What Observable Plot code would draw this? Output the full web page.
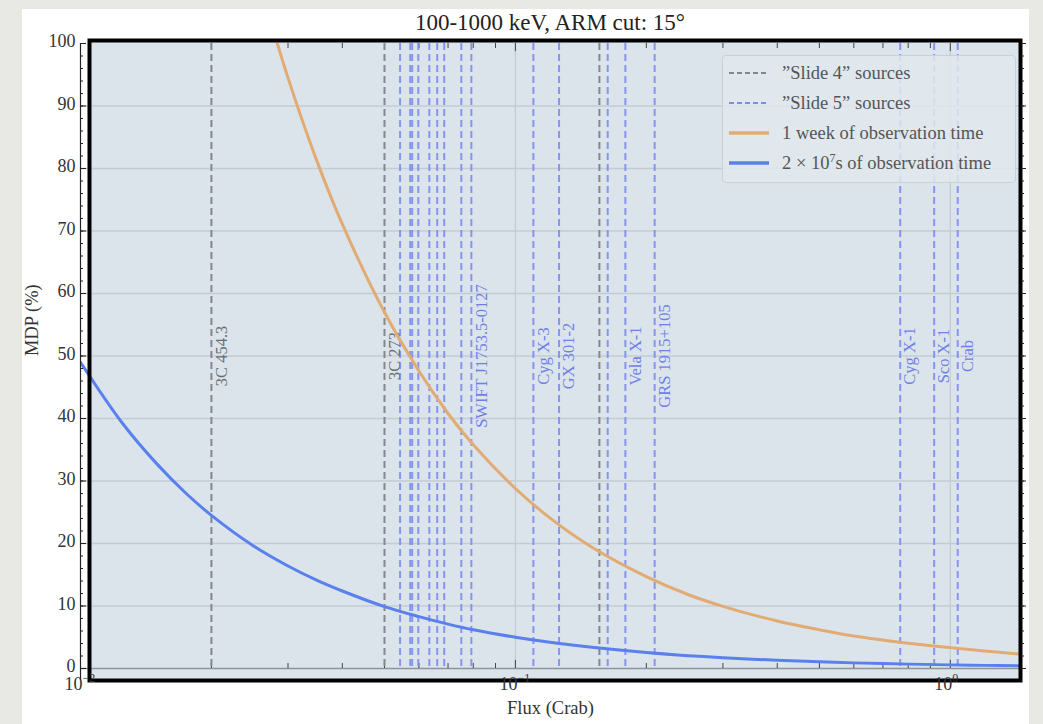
<!DOCTYPE html>
<html><head><meta charset="utf-8">
<script src="https://cdn.jsdelivr.net/npm/d3@7"></script>
<script src="https://cdn.jsdelivr.net/npm/@observablehq/plot@0.6"></script>
<style>
html,body{margin:0;padding:0;background:#e8e8e4;}
#wrap{position:relative;width:1043px;height:724px;overflow:hidden;font-family:"Liberation Serif",serif;}
#paper{position:absolute;left:22px;top:9px;width:1007px;height:715px;background:#fff;}
#chart{position:absolute;left:0;top:0;}
#title{position:absolute;left:80px;width:940px;top:10px;text-align:center;font-size:23px;color:#222;}
#legend{position:absolute;left:722px;top:55px;width:294px;height:128px;box-sizing:border-box;border:1.3px solid #c9d0d6;border-radius:4px;background:rgba(224,231,237,0.85);font-size:18.5px;color:#555;}
.row{position:absolute;left:5px;height:30px;display:flex;align-items:center;}
.row svg{width:46px;height:10px;margin-right:8px;}
sup{font-size:12px;}
</style></head>
<body>
<div id="wrap">
  <div id="paper"></div>
  <div id="chart"></div>
  <div id="title">100-1000 keV, ARM cut: 15°</div>
  <div id="legend"></div>
</div>
<script>
// ---- data ----
const flux = [0.01, 0.0125, 0.015, 0.0175, 0.02, 0.025, 0.03, 0.035, 0.04, 0.05, 0.06, 0.07, 0.08, 0.1, 0.12, 0.15, 0.2, 0.25, 0.3, 0.4, 0.5, 0.6, 0.8, 1.0, 1.2, 1.45];
const mdpLong = [49.0, 39.2, 32.7, 28.0, 24.5, 19.6, 16.4, 14.1, 12.4, 9.9, 8.3, 7.1, 6.2, 5.0, 4.2, 3.4, 2.56, 2.05, 1.73, 1.32, 1.08, 0.9, 0.70, 0.58, 0.50, 0.42];
const fluxWeek = [0.027, 0.03, 0.035, 0.04, 0.05, 0.06, 0.07, 0.08, 0.1, 0.12, 0.15, 0.2, 0.25, 0.3, 0.4, 0.5, 0.6, 0.8, 1.0, 1.2, 1.45];
const mdpWeek = [105.0, 94.5, 81.1, 71.1, 57.0, 47.6, 40.8, 35.8, 28.8, 24.1, 19.4, 14.7, 11.8, 9.95, 7.6, 6.2, 5.2, 4.05, 3.34, 2.8, 2.3];

const slide4Names = ["3C 454.3", "3C 273", ""];
const slide4Flux = [0.020, 0.050, 0.156];
const slide5Names = ["", "", "", "", "", "", "", "", "SWIFT J1753.5-0127", "Cyg X-3", "GX 301-2", "", "Vela X-1", "GRS 1915+105", "Cyg X-1", "Sco X-1", "Crab"];
const slide5Flux = [0.0543, 0.0573, 0.0579, 0.0598, 0.0634, 0.0661, 0.0686, 0.0751, 0.0792, 0.110, 0.126, 0.163, 0.179, 0.209, 0.767, 0.918, 1.04];

const yMajor = [0, 10, 20, 30, 40, 50, 60, 70, 80, 90, 100];
const yMinor = d3.range(0, 101, 2);
const xMajor = [0.01, 0.1, 1];
const xExp = ["-2", "-1", "0"];
const xMinor = [0.02,0.03,0.04,0.05,0.06,0.07,0.08,0.09,0.2,0.3,0.4,0.5,0.6,0.7,0.8,0.9];
const labelY = 50;

// ---- styles ----
const cGrey = "#84888c", cBlueDash = "#7d8cf0", cOrange = "#e2ab73", cBlue = "#5a80ee";
const bg = "#dbe4ea", gridC = "#c3ccd3";

const long = flux.map((f, i) => ({flux: f, mdp: mdpLong[i]}));
const week = fluxWeek.map((f, i) => ({flux: f, mdp: mdpWeek[i]}));
const s4 = slide4Flux.map((f, i) => ({flux: f, name: slide4Names[i]}));
const s5 = slide5Flux.map((f, i) => ({flux: f, name: slide5Names[i]}));
const xTickLab = xMajor.map((v, i) => ({v, e: xExp[i]}));

const chart = Plot.plot({
  width: 1043, height: 724,
  marginLeft: 80, marginRight: 23, marginTop: 43, marginBottom: 56,
  style: {background: "transparent", fontFamily: "Liberation Serif, serif", fontSize: "18px", color: "#333"},
  x: {type: "log", domain: [0.01, 1.45], axis: null},
  y: {domain: [0, 100], label: null},
  marks: [
    Plot.frame({fill: bg, stroke: null, insetLeft: 9, insetBottom: -12, insetTop: -3}),
    Plot.gridY({ticks: yMajor.slice(1, -1), stroke: gridC, strokeOpacity: 1, strokeWidth: 1.3}),
    Plot.gridX({ticks: [0.1, 1], stroke: gridC, strokeOpacity: 1, strokeWidth: 1.3}),
    Plot.ruleY([0], {stroke: "#8d959b", strokeWidth: 1.6}),
    // minor ticks inside bottom and top
    Plot.ruleX(xMinor, {x: d => d, y1: 0, y2: 0.8, stroke: "#444", strokeWidth: 1}),
    Plot.ruleX(xMajor, {x: d => d, y1: 0, y2: 1.3, stroke: "#444", strokeWidth: 1}),
    Plot.ruleX(xMinor, {x: d => d, y1: 100, y2: 99.2, stroke: "#444", strokeWidth: 1}),
    Plot.ruleX(xMajor, {x: d => d, y1: 100, y2: 98.7, stroke: "#444", strokeWidth: 1}),
    // source lines
    Plot.ruleX(s4, {x: "flux", stroke: cGrey, strokeWidth: 2, strokeDasharray: "7,4"}),
    Plot.ruleX(s5, {x: "flux", stroke: cBlueDash, strokeWidth: 2, strokeDasharray: "7,4", strokeOpacity: 0.9}),
    Plot.text(s4.filter(d => d.name), {x: "flux", y: () => labelY, text: "name", rotate: -90, dx: 10, fill: "#6a6e72", fontSize: 16.5}),
    Plot.text(s5.filter(d => d.name), {x: "flux", y: () => labelY, text: "name", rotate: -90, dx: 10, fill: "#6f7fe8", fontSize: 16.5}),
    // curves
    Plot.line(week, {x: "flux", y: "mdp", stroke: cOrange, strokeWidth: 3, curve: "catmull-rom", clip: true}),
    Plot.line(long, {x: "flux", y: "mdp", stroke: cBlue, strokeWidth: 3, curve: "catmull-rom", clip: true}),
    // frame
    Plot.frame({stroke: "#000", strokeWidth: 4, insetLeft: 9, insetBottom: -12, insetTop: -3}),
    // left axis
    Plot.ruleX([0.01], {stroke: "#222", strokeWidth: 1.2, insetBottom: -12}),
    Plot.axisY({ticks: yMajor, tickSize: 0, tickPadding: 5, fill: "#333", fontSize: 18, label: null, dy: -2}),
    Plot.axisY({ticks: yMajor, tickSize: 6, dx: 6, tickFormat: () => "", stroke: "#222", label: null}),
    Plot.axisY({ticks: yMinor, tickSize: 3, dx: 3, tickFormat: () => "", stroke: "#222", label: null}),
    Plot.axisY({anchor: "right", ticks: yMinor, tickSize: 3, tickFormat: () => "", stroke: "#222", label: null}),
    Plot.axisY({anchor: "right", ticks: yMajor, tickSize: 5, tickFormat: () => "", stroke: "#222", label: null}),
    // x tick labels
    Plot.text(xTickLab, {x: "v", frameAnchor: "bottom", text: () => "10", textAnchor: "end", dx: 2, dy: 21, fill: "#333", fontSize: 18}),
    Plot.text(xTickLab, {x: "v", frameAnchor: "bottom", text: d => d.e === "0" ? "0" : "\u2212" + d.e.slice(1), textAnchor: "start", dx: 2, dy: 13, fill: "#333", fontSize: 12}),
    // axis titles
    Plot.text(["Flux (Crab)"], {frameAnchor: "bottom", text: d => d, dy: 45, fill: "#333", fontSize: 18.5}),
    Plot.text(["MDP (%)"], {frameAnchor: "left", y: () => labelY, text: d => d, rotate: -90, dx: -48, fill: "#333", fontSize: 18.5})
  ]
});
document.getElementById("chart").appendChild(chart);

// legend
const legendItems = [
  {label: "\u201DSlide 4\u201D sources", color: cGrey, dash: "5,3", w: 1.8},
  {label: "\u201DSlide 5\u201D sources", color: cBlueDash, dash: "5,3", w: 1.8},
  {label: "1 week of observation time", color: cOrange, dash: null, w: 3.5},
  {label: "2 \u00D7 10<sup>7</sup>s of observation time", color: cBlue, dash: null, w: 3.5}
];
const leg = document.getElementById("legend");
legendItems.forEach((it, i) => {
  const row = document.createElement("div");
  row.className = "row";
  row.style.top = (2 + i * 30) + "px";
  row.innerHTML = `<svg viewBox="0 0 46 10"><line x1="1" x2="41" y1="5" y2="5" stroke="${it.color}" stroke-width="${it.w}" ${it.dash ? `stroke-dasharray="${it.dash}"` : ""}/></svg><span>${it.label}</span>`;
  leg.appendChild(row);
});
</script>
</body></html>
